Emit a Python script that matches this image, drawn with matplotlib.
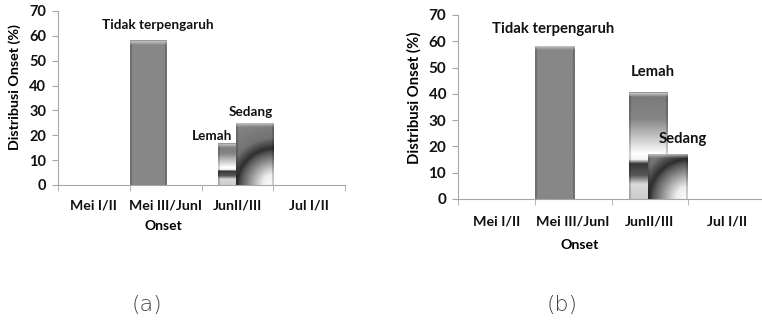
import numpy as np
import matplotlib
matplotlib.use('Agg')
import matplotlib.pyplot as plt

plt.rcParams['font.family'] = ['Lato', 'DejaVu Sans']
plt.rcParams['font.weight'] = 'bold'

# Onset classes and percentage of onsets per influence level
categories = ['Mei I/II', 'Mei III/JunI', 'JunII/III', 'Jul I/II']
series_names = ['Tidak terpengaruh', 'Lemah', 'Sedang']

# panel (a)
dist_a_tidak = [0, 58.3, 0, 0]
dist_a_lemah = [0, 0, 16.7, 0]
dist_a_sedang = [0, 0, 25.0, 0]

# panel (b)
dist_b_tidak = [0, 58.3, 0, 0]
dist_b_lemah = [0, 0, 40.6, 0]
dist_b_sedang = [0, 0, 17.3, 0]

# overlapping bar layout (left edge offset from category centre, width)
OFFSETS = [-0.5, -0.27, -0.02]
WIDTHS = [0.51, 0.5, 0.52]
FILLS = ['flat', 'bands', 'radial']


def shade(kind, w, h):
    nx, ny = max(int(round(w)), 2), max(int(round(h)), 2)
    X, Y = np.meshgrid(np.arange(nx) + 0.5, np.arange(ny) + 0.5)
    if kind == 'flat':
        img = np.full((ny, nx), 0.53)
    elif kind == 'bands':
        t = Y / ny
        img = np.interp(t, [0, 0.04, 0.25, 0.58, 0.63, 0.67, 0.78, 0.86, 1.0],
                        [0.6, 0.48, 0.52, 1.0, 0.95, 0.22, 0.35, 0.85, 0.8])
    else:
        r = np.hypot(nx - X, ny - Y) / nx
        img = np.interp(r, [0, 0.3, 0.85, 0.97, 1.25, 2.0],
                        [1.0, 0.93, 0.35, 0.18, 0.45, 0.55])
    # darker sides and a light bevel along the top
    side = np.minimum(X, nx - X)
    img = img * np.where(side < 2.5, 0.82, 1.0)
    a = np.clip(1 - (Y - 1) / 4, 0, 1) * 0.75
    img = img * (1 - a) + 0.85 * a
    img[Y < 1] = 0.6
    return img


def draw_panel(ax, values, label_offsets, sizes, tick_pad):
    xt_size, yt_size, lab_size, xl_size, yl_size = sizes
    ax.set_xlim(-0.5, len(categories) - 0.5)
    ax.set_ylim(0, 70)
    x = np.arange(len(categories))
    for vals, off, wd, kind, name, dxy in zip(values, OFFSETS, WIDTHS, FILLS,
                                             series_names, label_offsets):
        bars = ax.bar(x + off, vals, width=wd, align='edge',
                      facecolor='none', edgecolor='none', zorder=2)
        for b in bars:
            if b.get_height() <= 0:
                continue
            bb = b.get_window_extent()
            img = shade(kind, bb.width, bb.height)
            im = ax.imshow(img, cmap='gray', vmin=0, vmax=1, aspect='auto',
                           interpolation='bilinear', origin='upper',
                           extent=(b.get_x(), b.get_x() + b.get_width(),
                                   0, b.get_height()), zorder=2)
            im.set_clip_path(b)
            ax.annotate(name, (b.get_x() + b.get_width() / 2, b.get_height()),
                        xytext=dxy, textcoords='offset pixels',
                        ha='center', va='center', fontsize=lab_size,
                        fontweight='bold', color='#111111', zorder=4)
    ax.set_xlim(-0.5, len(categories) - 0.5)
    ax.set_ylim(0, 70)

    for s in ['top', 'right']:
        ax.spines[s].set_visible(False)
    for s in ['left', 'bottom']:
        ax.spines[s].set_color('#a6a6a6')
        ax.spines[s].set_linewidth(0.8)
    ax.set_yticks(range(0, 71, 10))
    ax.set_xticks(x)
    ax.set_xticklabels(categories)
    ax.set_xticks(np.arange(len(categories) + 1) - 0.5, minor=True)
    ax.tick_params(axis='x', which='major', length=0, pad=tick_pad,
                   labelsize=xt_size)
    ax.tick_params(axis='x', which='minor', length=4, color='#a6a6a6')
    ax.tick_params(axis='y', length=4.5, pad=4, color='#a6a6a6',
                   labelsize=yt_size)
    for lab in ax.get_xticklabels() + ax.get_yticklabels():
        lab.set_fontweight('bold')
        lab.set_color('#111111')
    ax.set_xlabel('Onset', fontsize=xl_size, fontweight='bold')
    ax.set_ylabel('Distribusi Onset (%)', fontsize=yl_size, fontweight='bold')


fig = plt.figure(figsize=(7.62, 3.24), dpi=100)
W, H = 762, 324

ax1 = fig.add_axes([58 / W, 1 - 185 / H, 287 / W, 174 / H])
draw_panel(ax1, [dist_a_tidak, dist_a_lemah, dist_a_sedang],
           [(10, 15), (-24, 7), (-4, 11)], (10.2, 10.5, 9.7, 10, 10.3), 10.5)
ax1.xaxis.set_label_coords(0.366, -0.2)
ax1.yaxis.set_label_coords(-0.128, 0.56)

ax2 = fig.add_axes([458 / W, 1 - 199 / H, 307 / W, 184 / H])
draw_panel(ax2, [dist_b_tidak, dist_b_lemah, dist_b_sedang],
           [(-1, 17), (4, 20), (15, 15)], (10.3, 11, 10.7, 10.2, 10.7), 12)
ax2.xaxis.set_label_coords(0.397, -0.22)
ax2.yaxis.set_label_coords(-0.12, 0.55)

fig.text(147 / W, 1 - 305 / H, '(a)', fontsize=16, fontweight='light',
         family='DejaVu Sans', color='#444444', ha='center', va='center')
fig.text(562 / W, 1 - 305 / H, '(b)', fontsize=16, fontweight='light',
         family='DejaVu Sans', color='#444444', ha='center', va='center')

fig.savefig('out.png', dpi=100)
